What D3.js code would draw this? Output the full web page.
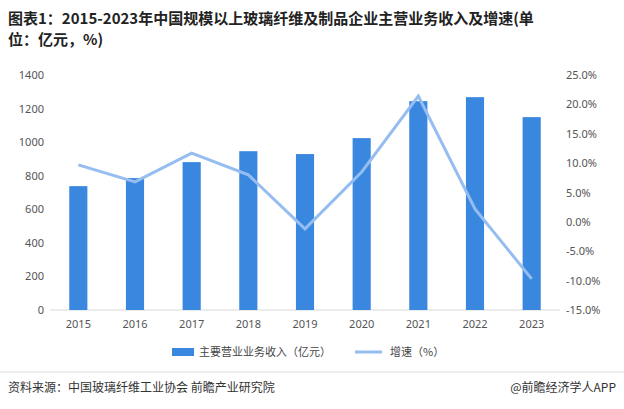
<!DOCTYPE html>
<html>
<head>
<meta charset="utf-8">
<script src="https://d3js.org/d3.v7.min.js"></script>
<style>
  body { margin: 0; background: #fff; font-family: "Noto Sans CJK SC", "Noto Sans", sans-serif; }
</style>
</head>
<body>
<div id="chart"></div>
<script>
  var years = ["2015","2016","2017","2018","2019","2020","2021","2022","2023"];
  var revenue = [738, 786, 881, 946, 929, 1024, 1244, 1268, 1149];
  var growth = [9.7, 6.8, 11.7, 8.0, -1.2, 8.5, 21.4, 2.2, -9.7];
  var leftTicks = [0, 200, 400, 600, 800, 1000, 1200, 1400];
  var rightTicks = [-15, -10, -5, 0, 5, 10, 15, 20, 25];

  var W = 624, H = 409;
  var svg = d3.select("#chart").append("svg").attr("width", W).attr("height", H);

  // title
  svg.append("text").attr("x", 8).attr("y", 24)
    .style("font-size", "15px").style("font-weight", "bold").attr("fill", "#222")
    .text("图表1：2015-2023年中国规模以上玻璃纤维及制品企业主营业务收入及增速(单");
  svg.append("text").attr("x", 8).attr("y", 45)
    .style("font-size", "15px").style("font-weight", "bold").attr("fill", "#222")
    .text("位：亿元，%)");

  var x = d3.scaleBand().domain(years).range([50, 560]).paddingInner(0.68).paddingOuter(0.34);
  var yL = d3.scaleLinear().domain([0, 1400]).range([310, 75]);
  var yR = d3.scaleLinear().domain([-15, 25]).range([310, 75]);

  // baseline
  svg.append("line").attr("x1", 50).attr("x2", 560).attr("y1", 310).attr("y2", 310)
    .attr("stroke", "#d9d9d9");

  svg.selectAll("rect.bar").data(revenue).enter().append("rect")
    .attr("class", "bar")
    .attr("x", function (d, i) { return x(years[i]); })
    .attr("width", x.bandwidth())
    .attr("y", function (d) { return yL(d); })
    .attr("height", function (d) { return 310 - yL(d); })
    .attr("fill", "#3a87e0");

  var line = d3.line()
    .x(function (d, i) { return x(years[i]) + x.bandwidth() / 2; })
    .y(function (d) { return yR(d); });
  svg.append("path").datum(growth).attr("d", line)
    .attr("fill", "none").attr("stroke", "#95bdf0").attr("stroke-width", 3);

  var axisStyle = function (g) {
    g.select(".domain").remove();
    g.selectAll("line").remove();
    g.selectAll("text").attr("fill", "#555").style("font-size", "11px")
      .style("font-family", "Noto Sans, sans-serif");
  };

  svg.append("g").attr("transform", "translate(44,0)")
    .call(d3.axisLeft(yL).tickValues(leftTicks).tickSize(0).tickPadding(0).tickFormat(d3.format("d")))
    .call(axisStyle);
  svg.append("g").attr("transform", "translate(566,0)")
    .call(d3.axisRight(yR).tickValues(rightTicks).tickSize(0).tickPadding(0)
      .tickFormat(function (d) { return d.toFixed(1) + "%"; }))
    .call(axisStyle);
  svg.append("g").attr("transform", "translate(0,316)")
    .call(d3.axisBottom(x).tickSize(0).tickPadding(4))
    .call(axisStyle);

  // legend
  svg.append("rect").attr("x", 172).attr("y", 348).attr("width", 22).attr("height", 8).attr("fill", "#3a87e0");
  svg.append("text").attr("x", 199).attr("y", 356).style("font-size", "11px").attr("fill", "#444")
    .text("主要营业业务收入（亿元）");
  svg.append("line").attr("x1", 355).attr("x2", 382).attr("y1", 352).attr("y2", 352)
    .attr("stroke", "#95bdf0").attr("stroke-width", 3);
  svg.append("text").attr("x", 390).attr("y", 356).style("font-size", "11px").attr("fill", "#444")
    .text("增速（%）");

  // footer
  svg.append("line").attr("x1", 0).attr("x2", W).attr("y1", 372).attr("y2", 372)
    .attr("stroke", "#ddd");
  svg.append("text").attr("x", 8).attr("y", 392).style("font-size", "12px").attr("fill", "#333")
    .text("资料来源：中国玻璃纤维工业协会 前瞻产业研究院");
  svg.append("text").attr("x", 616).attr("y", 392).attr("text-anchor", "end")
    .style("font-size", "12px").attr("fill", "#333").text("@前瞻经济学人APP");
</script>
</body>
</html>
